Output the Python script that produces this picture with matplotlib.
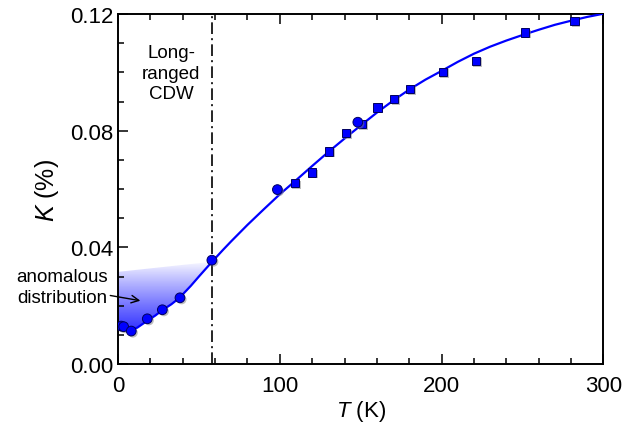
import matplotlib
matplotlib.use('Agg')
import matplotlib.pyplot as plt
import matplotlib.patheffects as pe
from matplotlib.patches import Polygon
from matplotlib.ticker import MultipleLocator
import numpy as np

plt.rcParams['font.family'] = ['Liberation Sans', 'DejaVu Sans']
plt.rcParams['mathtext.fontset'] = 'custom'
plt.rcParams['mathtext.rm'] = 'Liberation Sans'
plt.rcParams['mathtext.it'] = 'Liberation Sans:italic'

# circles (low-T set)
t_circ = [2.0, 3.5, 8.2, 18.1, 27.4, 38.3, 58.0, 98.5, 148.2]
k_circ = [0.0130, 0.0128, 0.0113, 0.0155, 0.0186, 0.0227, 0.0356, 0.0598, 0.0829]

# squares (high-T set)
t_sq = [109.3, 120.0, 130.3, 141.0, 150.7, 160.4, 170.6, 180.5, 200.7, 221.1, 251.6, 282.0]
k_sq = [0.0620, 0.0657, 0.0729, 0.0793, 0.0823, 0.0879, 0.0909, 0.0944, 0.1002, 0.1040, 0.1136, 0.1176]

# fitted curve
t_fit = [0, 2, 5, 8, 12, 18, 23, 27, 33, 38, 45, 50, 58, 65, 70, 80, 90, 100, 110, 120,
         130, 140, 150, 160, 170, 180, 190, 200, 210, 220, 230, 240, 250, 260, 270, 280, 290, 300]
k_fit = [0.0128, 0.0122, 0.0116, 0.0115, 0.0125, 0.0148, 0.0166, 0.0183, 0.0205, 0.0227,
         0.0268, 0.0300, 0.0350, 0.0392, 0.0421, 0.0477, 0.0530, 0.0582, 0.0630, 0.0679,
         0.0727, 0.0773, 0.0818, 0.0862, 0.0903, 0.0941, 0.0975, 0.1005, 0.1036, 0.1064,
         0.1088, 0.1109, 0.1128, 0.1146, 0.1163, 0.1177, 0.1190, 0.1201]

t_cdw = 58.0
shade_top = [(0, 0.0316), (57, 0.0350)]

fig = plt.figure(figsize=(6.42, 4.31), dpi=100)
ax = fig.add_axes([0.1838, 0.1531, 0.7562, 0.8121])

# shaded "anomalous" region between the fit and a soft upper edge
verts = [shade_top[0], shade_top[1]]
for t, k in reversed(list(zip(t_fit, k_fit))):
    if t <= 57:
        verts.append((t, k))
clip = Polygon(verts, closed=True, transform=ax.transData, facecolor='none', edgecolor='none')
ax.add_patch(clip)
n = 200
a = np.linspace(1.0, 0.0, n) ** 0.9   # row 0 = bottom (strong blue)
grad = np.zeros((n, 2, 4))
grad[:, :, 0] = 0.12
grad[:, :, 1] = 0.12
grad[:, :, 2] = 1.0
grad[:, :, 3] = (a * 0.95)[:, None]
im = ax.imshow(grad, extent=[0, 58, 0.0105, 0.0352], origin='lower',
               aspect='auto', interpolation='bilinear', zorder=1)
im.set_clip_path(clip)

ax.axvline(t_cdw, color='black', lw=1.2, ls=(0, (7, 2.5, 1.2, 2.5)), zorder=2)
ax.plot(t_fit, k_fit, color='#0000ff', lw=1.6, zorder=3)

shadow = [pe.SimplePatchShadow(offset=(1.2, -1.2), shadow_rgbFace='0.5', alpha=0.5), pe.Normal()]
ax.plot(t_sq, k_sq, 's', ms=6.0, mfc='#0000ff', mec='#000060', mew=0.7, zorder=4,
        path_effects=shadow)
ax.plot(t_circ, k_circ, 'o', ms=7.0, mfc='#0000ff', mec='#000060', mew=0.7, zorder=5,
        path_effects=shadow)

ax.text(33, 0.0997, 'Long-\nranged\nCDW', ha='center', va='center', fontsize=13.5,
        linespacing=1.25)
ax.annotate('anomalous\ndistribution', xy=(13.8, 0.0217), xytext=(-6.5, 0.0264),
            ha='right', va='center', fontsize=13.5, linespacing=1.25,
            annotation_clip=False,
            arrowprops=dict(arrowstyle='->', color='black', lw=1.0,
                            shrinkA=0, shrinkB=0))

ax.set_xlim(0, 300)
ax.set_ylim(0, 0.12)
ax.xaxis.set_major_locator(MultipleLocator(100))
ax.xaxis.set_minor_locator(MultipleLocator(20))
ax.yaxis.set_major_locator(MultipleLocator(0.04))
ax.yaxis.set_minor_locator(MultipleLocator(0.01))
ax.yaxis.set_major_formatter(plt.FormatStrFormatter('%.2f'))
ax.tick_params(which='both', direction='in', top=True, right=False, width=1.1,
               labelsize=16)
ax.tick_params(which='major', length=7)
ax.tick_params(which='minor', length=4)
ax.tick_params(axis='x', pad=8)
for s in ax.spines.values():
    s.set_linewidth(1.4)

ax.set_xlabel('$T$ (K)', fontsize=16, labelpad=1)
ax.set_ylabel('$K$ (%)', fontsize=18, labelpad=6)

fig.savefig('out.png', dpi=100)
